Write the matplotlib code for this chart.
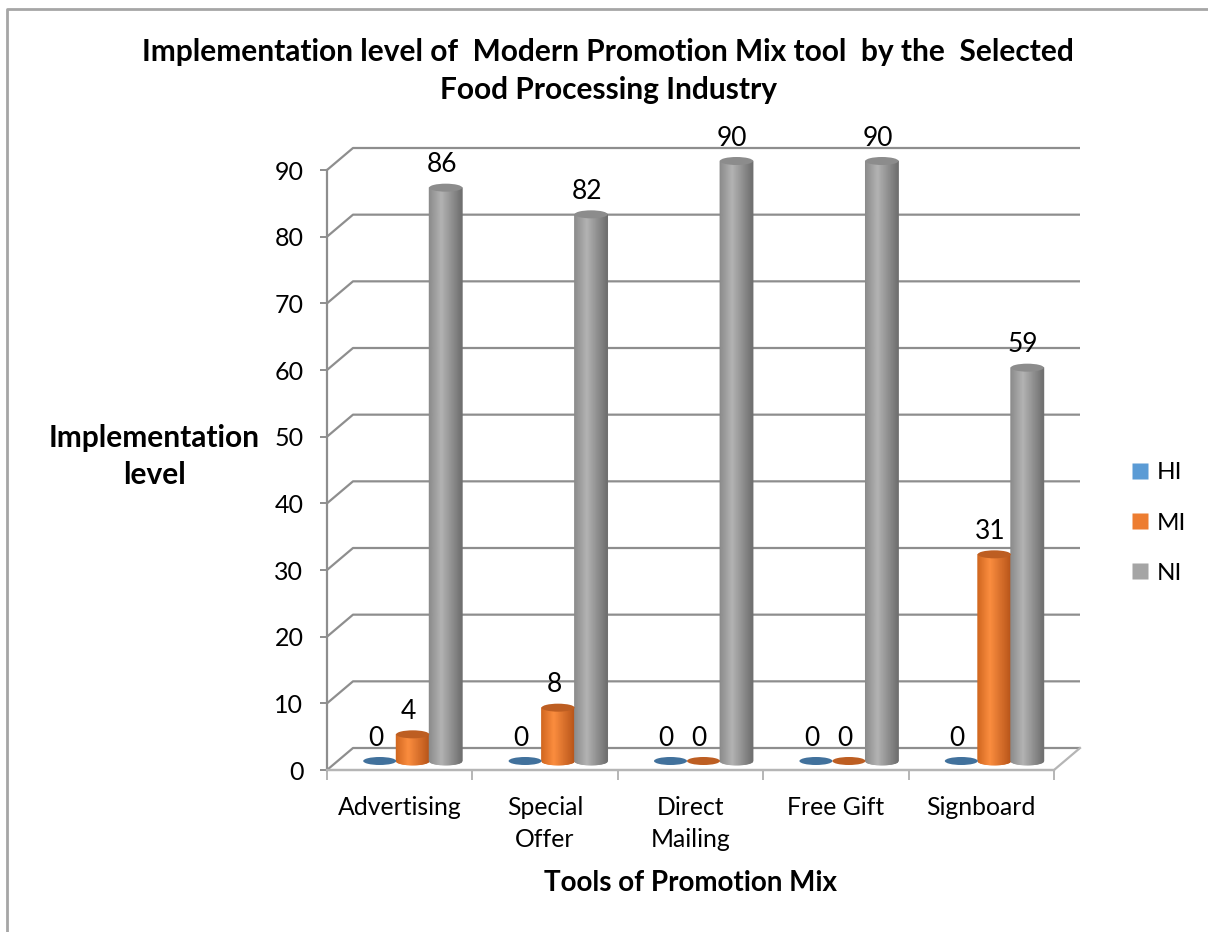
import numpy as np
import matplotlib
matplotlib.use("Agg")
import matplotlib.pyplot as plt
from matplotlib.patches import Ellipse
from matplotlib.collections import PolyCollection
from matplotlib.colors import LinearSegmentedColormap
from matplotlib.lines import Line2D

# ---- data -------------------------------------------------------------
categories = ["Advertising", "Special\nOffer", "Direct\nMailing", "Free Gift", "Signboard"]
series_names = ["HI", "MI", "NI"]
hi_values = [0, 0, 0, 0, 0]
mi_values = [4, 8, 0, 0, 31]
ni_values = [86, 82, 90, 90, 59]
y_ticks = [0, 10, 20, 30, 40, 50, 60, 70, 80, 90]

title_line1 = "Implementation level of  Modern Promotion Mix tool  by the  Selected"
title_line2 = "Food Processing Industry"
x_title = "Tools of Promotion Mix"
y_title = ["Implementation", "level"]

# ---- styling ----------------------------------------------------------
FONT = "Lato"
plt.rcParams["font.family"] = [FONT, "DejaVu Sans"]

legend_colors = ["#5B9BD5", "#ED7D31", "#A5A5A5"]
# cylinder shading: left edge, highlight, right edge
body_stops = [
    ["#3f74a8", "#6fa8dc", "#35618c"],
    ["#d0661f", "#fb8d3f", "#b9561a"],
    ["#8a8a8a", "#b3b3b3", "#6f6f6f"],
]
cap_colors = ["#41719c", "#bd5e22", "#8c8c8c"]
GRID = "#8e8e8e"
FLOOR = "#b5b5b5"

W, H = 1208, 932
fig = plt.figure(figsize=(W / 100, H / 100), dpi=100)
fig.patch.set_facecolor("white")

# front plane of the plot: x 327..1054 px, y 770 (0) .. 170 (90) px from top
ax = fig.add_axes([327 / W, (H - 770) / H, (1054 - 327) / W, 600 / H])
ax.set_xlim(-0.5, 4.5)
ax.set_ylim(0, 90)
ax.patch.set_visible(False)

# oblique depth of the 3-D box, expressed in data units
px_x = (1054 - 327) / 5.0      # pixels per category
px_y = 600 / 90.0              # pixels per value unit
DX, DY = 26 / px_x, 22 / px_y  # full depth (back wall)
BDX, BDY = 13 / px_x, 9 / px_y # bars stand half way in
BAR_W = 33 / px_x
CAP_B = 4 / px_y               # semi-minor axis of cylinder ellipses

# back wall gridlines with the diagonal on the side wall
for v in y_ticks:
    ax.plot([-0.5, -0.5 + DX, 4.5 + DX], [v, v + DY, v + DY],
            color=GRID, lw=1.6, clip_on=False, zorder=1, solid_capstyle="butt")
# floor
ax.plot([-0.5, 4.5, 4.5 + DX], [0, 0, DY], color=FLOOR, lw=1.6,
        clip_on=False, zorder=1)

# axes spines / ticks
for s in ["top", "right"]:
    ax.spines[s].set_visible(False)
ax.spines["left"].set_color(GRID)
ax.spines["left"].set_linewidth(1.6)
ax.spines["bottom"].set_color(FLOOR)
ax.spines["bottom"].set_linewidth(1.6)
ax.set_yticks(y_ticks)
ax.set_yticklabels([str(v) for v in y_ticks], fontsize=18)
ax.tick_params(axis="y", length=5, width=1.4, color=GRID, pad=12)
ax.set_xticks(range(len(categories)))
ax.set_xticklabels(categories, fontsize=17.8, linespacing=1.45)
ax.set_xticks(np.arange(-0.5, 5.0, 1.0), minor=True)
ax.tick_params(axis="x", which="major", length=0, pad=19)
ax.tick_params(axis="x", which="minor", length=7, width=1.4, color=FLOOR)


def cylinder(xc, value, k):
    """Shaded cylinder standing on the floor at category position xc."""
    x0 = xc + BDX
    base = BDY
    top = base + value
    if value > 0:
        cmap = LinearSegmentedColormap.from_list(
            "c", [(0, body_stops[k][0]), (0.38, body_stops[k][1]), (1, body_stops[k][2])])
        n = 40
        xs = np.linspace(-BAR_W / 2, BAR_W / 2, n + 1)
        polys, cols = [], []
        for i in range(n):
            xa, xb = xs[i], xs[i + 1]
            ya = base - CAP_B * np.sqrt(max(0.0, 1 - (2 * xa / BAR_W) ** 2))
            yb = base - CAP_B * np.sqrt(max(0.0, 1 - (2 * xb / BAR_W) ** 2))
            polys.append([(x0 + xa, ya), (x0 + xb, yb), (x0 + xb, top), (x0 + xa, top)])
            cols.append(cmap((i + 0.5) / n))
        pc = PolyCollection(polys, facecolors=cols, edgecolors=cols, linewidths=0.6,
                            zorder=3, clip_on=False)
        ax.add_collection(pc)
    cap = Ellipse((x0, top), BAR_W, 2 * CAP_B, facecolor=cap_colors[k],
                  edgecolor="none", zorder=4, clip_on=False)
    ax.add_patch(cap)
    ax.annotate(str(value), (x0, top), xytext=(-3, 11), textcoords="offset points",
                ha="center", va="baseline", fontsize=19, zorder=5,
                annotation_clip=False)


all_series = [hi_values, mi_values, ni_values]
for k, vals in enumerate(all_series):
    for i, v in enumerate(vals):
        cylinder(i + (k - 1) * BAR_W, v, k)

# titles
fig.text(608 / W, 1 - 52 / H, title_line1, ha="center", va="center",
         fontsize=21.5, fontweight="bold")
fig.text(608 / W, 1 - 90 / H, title_line2, ha="center", va="center",
         fontsize=21.5, fontweight="bold")
fig.text(154 / W, 1 - 438 / H, y_title[0], ha="center", va="center",
         fontsize=21.5, fontweight="bold")
fig.text(154 / W, 1 - 475 / H, y_title[1], ha="center", va="center",
         fontsize=21.5, fontweight="bold")
fig.text(690 / W, 1 - 883 / H, x_title, ha="center", va="center",
         fontsize=20, fontweight="bold")

# legend with square swatches
handles = [Line2D([], [], linestyle="none", marker="s", markersize=11,
                  markerfacecolor=c, markeredgecolor="none") for c in legend_colors]
fig.legend(handles, series_names, loc="center left",
           bbox_to_anchor=(1131 / W, 1 - 523 / H), frameon=False,
           fontsize=17.5, handlelength=0.7, handletextpad=0.35,
           labelspacing=1.2, borderpad=0, borderaxespad=0)

# chart-area border (top and left edges)
fig.add_artist(Line2D([7 / W, 7 / W, 1.0], [0.0, 1 - 9 / H, 1 - 9 / H],
                      transform=fig.transFigure, color="#a6a6a6", lw=2))

fig.savefig("out.png", dpi=100)
